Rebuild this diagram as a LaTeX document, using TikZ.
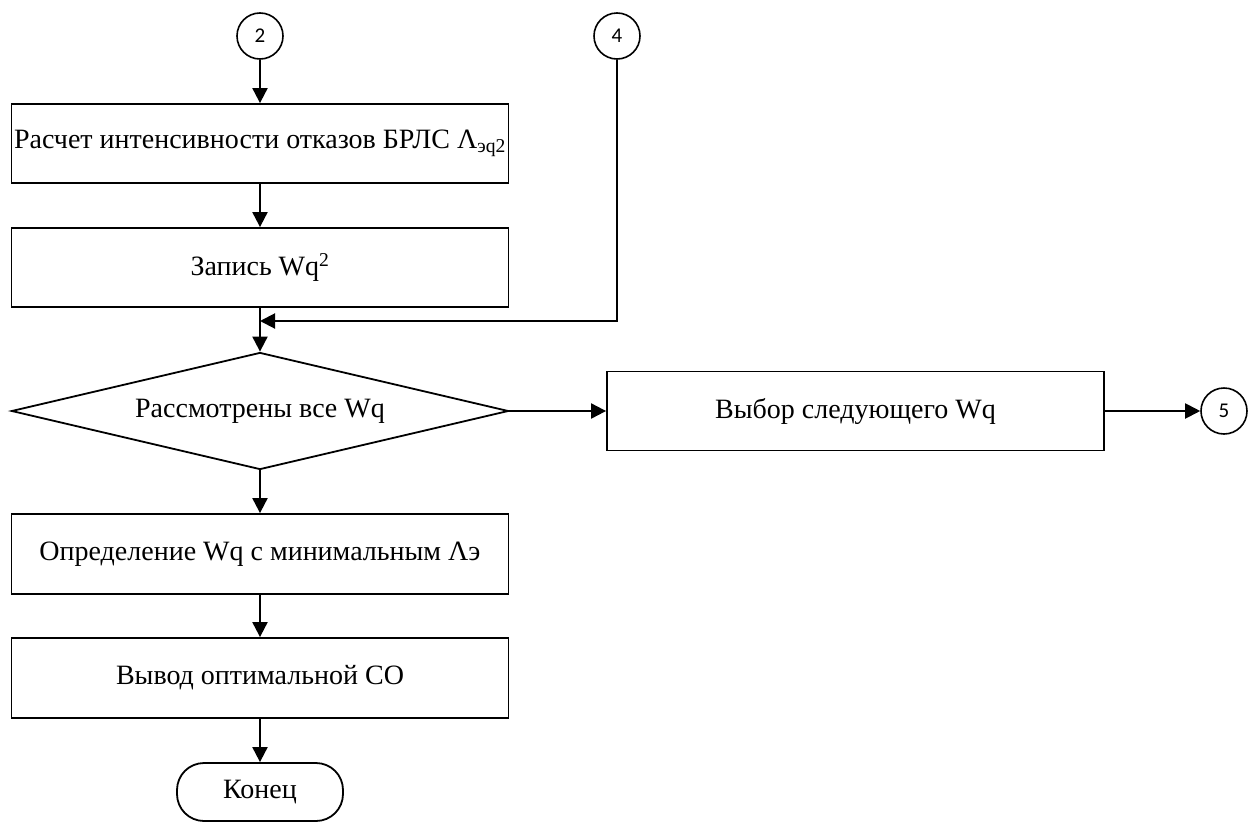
\documentclass[tikz,border=0pt]{standalone}
\usepackage{fontspec}
\setmainfont{Liberation Serif}
\newfontfamily\numfont{Carlito}
\usetikzlibrary{shapes.geometric,arrows.meta}
\begin{document}
\begin{tikzpicture}[x=1pt,y=-1pt,
  txt/.style={font=\fontsize{28}{33}\selectfont},
  box/.style={draw,line width=1.8pt,minimum width=497pt,minimum height=79pt,inner sep=0pt,txt},
  conn/.style={draw,circle,line width=1.6pt,minimum size=46pt,inner sep=0pt,font=\numfont\fontsize{21}{24}\selectfont},
  dec/.style={draw,diamond,line width=1.8pt,minimum width=497pt,minimum height=117pt,inner sep=0pt,aspect=4.25,txt},
  term/.style={draw,rounded corners=27pt,line width=1.8pt,minimum width=166pt,minimum height=58pt,inner sep=0pt,txt},
  ar/.style={line width=2pt,-{Triangle[length=15pt,width=15pt]}}]
\useasboundingbox (0,0) rectangle (1248,822);
\node[conn] (c2) at (260,36) {2};
\node[conn] (c4) at (617,36) {4};
\node[conn] (c5) at (1224,411) {5};
\node[box] (b1) at (260,143.5) {Расчет интенсивности отказов БРЛС Λ\textsubscript{эq2}};
\node[box] (b2) at (260,267.5) {Запись Wq\textsuperscript{2}};
\node[dec] (d) at (260,411) {Рассмотрены все Wq};
\node[box] (br) at (855.5,411) {Выбор следующего Wq};
\node[box,minimum height=80pt] (b3) at (260,554) {Определение Wq с минимальным Λэ};
\node[box,minimum height=80pt] (b4) at (260,678) {Вывод оптимальной СО};
\node[term] (e) at (260,792) {Конец};
\coordinate (j) at (260,321);
\draw[ar] (c2) -- (b1);
\draw[ar] (b1) -- (b2);
\draw[ar] (b2) -- (d);
\draw[ar] (c4.south) |- (j);
\draw[ar] (d.east) -- (br.west);
\draw[ar] (br) -- (c5);
\draw[ar] (d) -- (b3);
\draw[ar] (b3) -- (b4);
\draw[ar] (b4) -- (e);
\end{tikzpicture}
\end{document}
